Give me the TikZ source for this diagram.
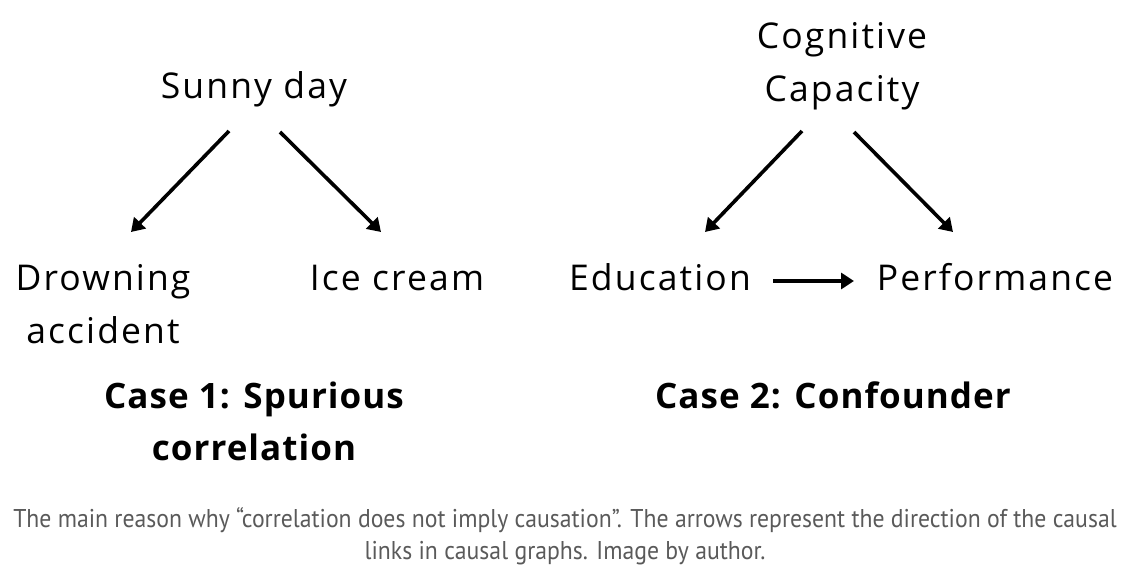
\documentclass[tikz,border=0pt]{standalone}
\usepackage{fontspec}
\setmainfont{Open Sans}
\newfontfamily\lblfont[LetterSpace=6]{Open Sans}
\newfontfamily\casefont[LetterSpace=3]{Open Sans}
\newfontfamily\capfont{PT Sans}
\usetikzlibrary{arrows.meta}
\definecolor{capgray}{HTML}{5A5A5A}
\tikzset{
  lbl/.style={font=\lblfont\fontsize{35.5}{53}\selectfont, align=center, inner sep=0pt, anchor=base},
  case/.style={font=\casefont\fontsize{35}{52}\selectfont\bfseries, align=center, inner sep=0pt, anchor=base},
  capt/.style={font=\capfont\fontsize{25.7}{32}\selectfont, text=capgray, inner sep=0pt, anchor=base},
  arr/.style={line width=3.6pt, -{Triangle[length=13pt,width=16pt]}},
}
\begin{document}
\begin{tikzpicture}[x=1pt,y=-1pt]
\useasboundingbox (0,0) rectangle (1141,567);
\fill[white] (0,0) rectangle (1141,567);
% Case 1 (multi-line nodes are placed by their last baseline)
\node[lbl] (sun) at (254,99) {Sunny day};
\node[lbl] (drown) at (103,343) {Drowning\\accident};
\node[lbl] (ice) at (397,290) {Ice cream};
\coordinate (s1) at (229,131);
\coordinate (e1) at (131,232);
\coordinate (s2) at (280,132);
\coordinate (e2) at (381,232);
\draw[arr] (s1) -- (e1);
\draw[arr] (s2) -- (e2);
\node[case] (c1) at (254,460) {Case 1: Spurious\\correlation};
% Case 2
\node[lbl] (cog) at (842,102) {Cognitive\\Capacity};
\node[lbl] (edu) at (660,290) {Education};
\node[lbl] (perf) at (995,290) {Performance};
\coordinate (s3) at (802,131);
\coordinate (e3) at (705,232);
\coordinate (s4) at (854,132);
\coordinate (e4) at (953,232);
\coordinate (h1) at (773,281);
\coordinate (h2) at (854,281);
\draw[arr] (s3) -- (e3);
\draw[arr] (s4) -- (e4);
\draw[arr] (h1) -- (h2);
\node[case] (c2) at (833,408) {Case 2: Confounder};
% caption
\node[capt] (cap1) at (565,527) {\scalebox{0.923}[1]{The main reason why “correlation does not imply causation”. The arrows represent the direction of the causal}};
\node[capt] (cap2) at (565,559) {\scalebox{0.923}[1]{links in causal graphs. Image by author.}};
\end{tikzpicture}
\end{document}
